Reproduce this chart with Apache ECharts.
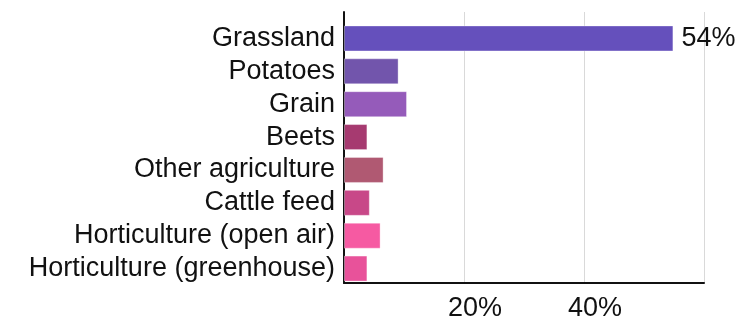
<!DOCTYPE html>
<html>
<head>
<meta charset="utf-8">
<script src="https://cdn.jsdelivr.net/npm/echarts@6/dist/echarts.min.js"></script>
<style>
  html, body { margin: 0; padding: 0; background: #fff; }
  #chart { width: 740px; height: 322px; }
</style>
</head>
<body>
<div id="chart"></div>
<script>
const categories = [
  'Grassland',
  'Potatoes',
  'Grain',
  'Beets',
  'Other agriculture',
  'Cattle feed',
  'Horticulture (open air)',
  'Horticulture (greenhouse)'
]
const shares = [54.9, 9.1, 10.5, 3.9, 6.6, 4.3, 6.1, 3.9]
const barColors = ['#6550bc', '#7255ac', '#955bba', '#a63a70', '#b05972', '#c84888', '#f65aa2', '#e8529a']
const xTicks = [0, 20, 40, 60]

const chart = echarts.init(document.getElementById('chart'))
const textColor = '#111'
const font = 'Liberation Sans, Arial, sans-serif'

chart.setOption({
  animation: false,
  textStyle: { fontFamily: font },
  grid: [
    // bars
    { left: 344, right: 36, top: 22, bottom: 37 },
    // frame: axis lines and gridlines
    { left: 344, right: 36, top: 12, bottom: 30 }
  ],
  xAxis: [
    {
      gridIndex: 0,
      type: 'value',
      min: xTicks[0],
      max: xTicks[xTicks.length - 1],
      interval: 20,
      show: false
    },
    {
      gridIndex: 1,
      type: 'value',
      min: xTicks[0],
      max: xTicks[xTicks.length - 1],
      interval: 20,
      axisLine: { show: true, lineStyle: { color: '#111', width: 2 } },
      axisTick: { show: false },
      splitLine: { show: true, lineStyle: { color: '#d9d9d9', width: 1 } },
      axisLabel: {
        color: textColor,
        fontSize: 27,
        margin: 12,
        padding: [0, 0, 0, 22],
        showMinLabel: false,
        showMaxLabel: false,
        formatter: (v) => v + '%'
      }
    }
  ],
  yAxis: [
    {
      gridIndex: 0,
      type: 'category',
      inverse: true,
      data: categories,
      axisLine: { show: false },
      axisTick: { show: false },
      axisLabel: { color: textColor, fontSize: 27, margin: 9, interval: 0 }
    },
    {
      gridIndex: 1,
      type: 'category',
      data: [''],
      axisLine: { show: true, lineStyle: { color: '#111', width: 2 } },
      axisTick: { show: false },
      axisLabel: { show: false }
    }
  ],
  series: [{
    type: 'bar',
    xAxisIndex: 0,
    yAxisIndex: 0,
    barWidth: 26,
    data: shares.map((v, i) => ({
      value: v,
      itemStyle: { color: barColors[i], borderColor: 'rgba(255,255,255,0.35)', borderWidth: 1 },
      label: {
        show: i === 0,
        position: 'right',
        distance: 8,
        color: textColor,
        fontSize: 27,
        formatter: (p) => Math.floor(p.value) + '%'
      }
    }))
  }]
})
</script>
</body>
</html>
